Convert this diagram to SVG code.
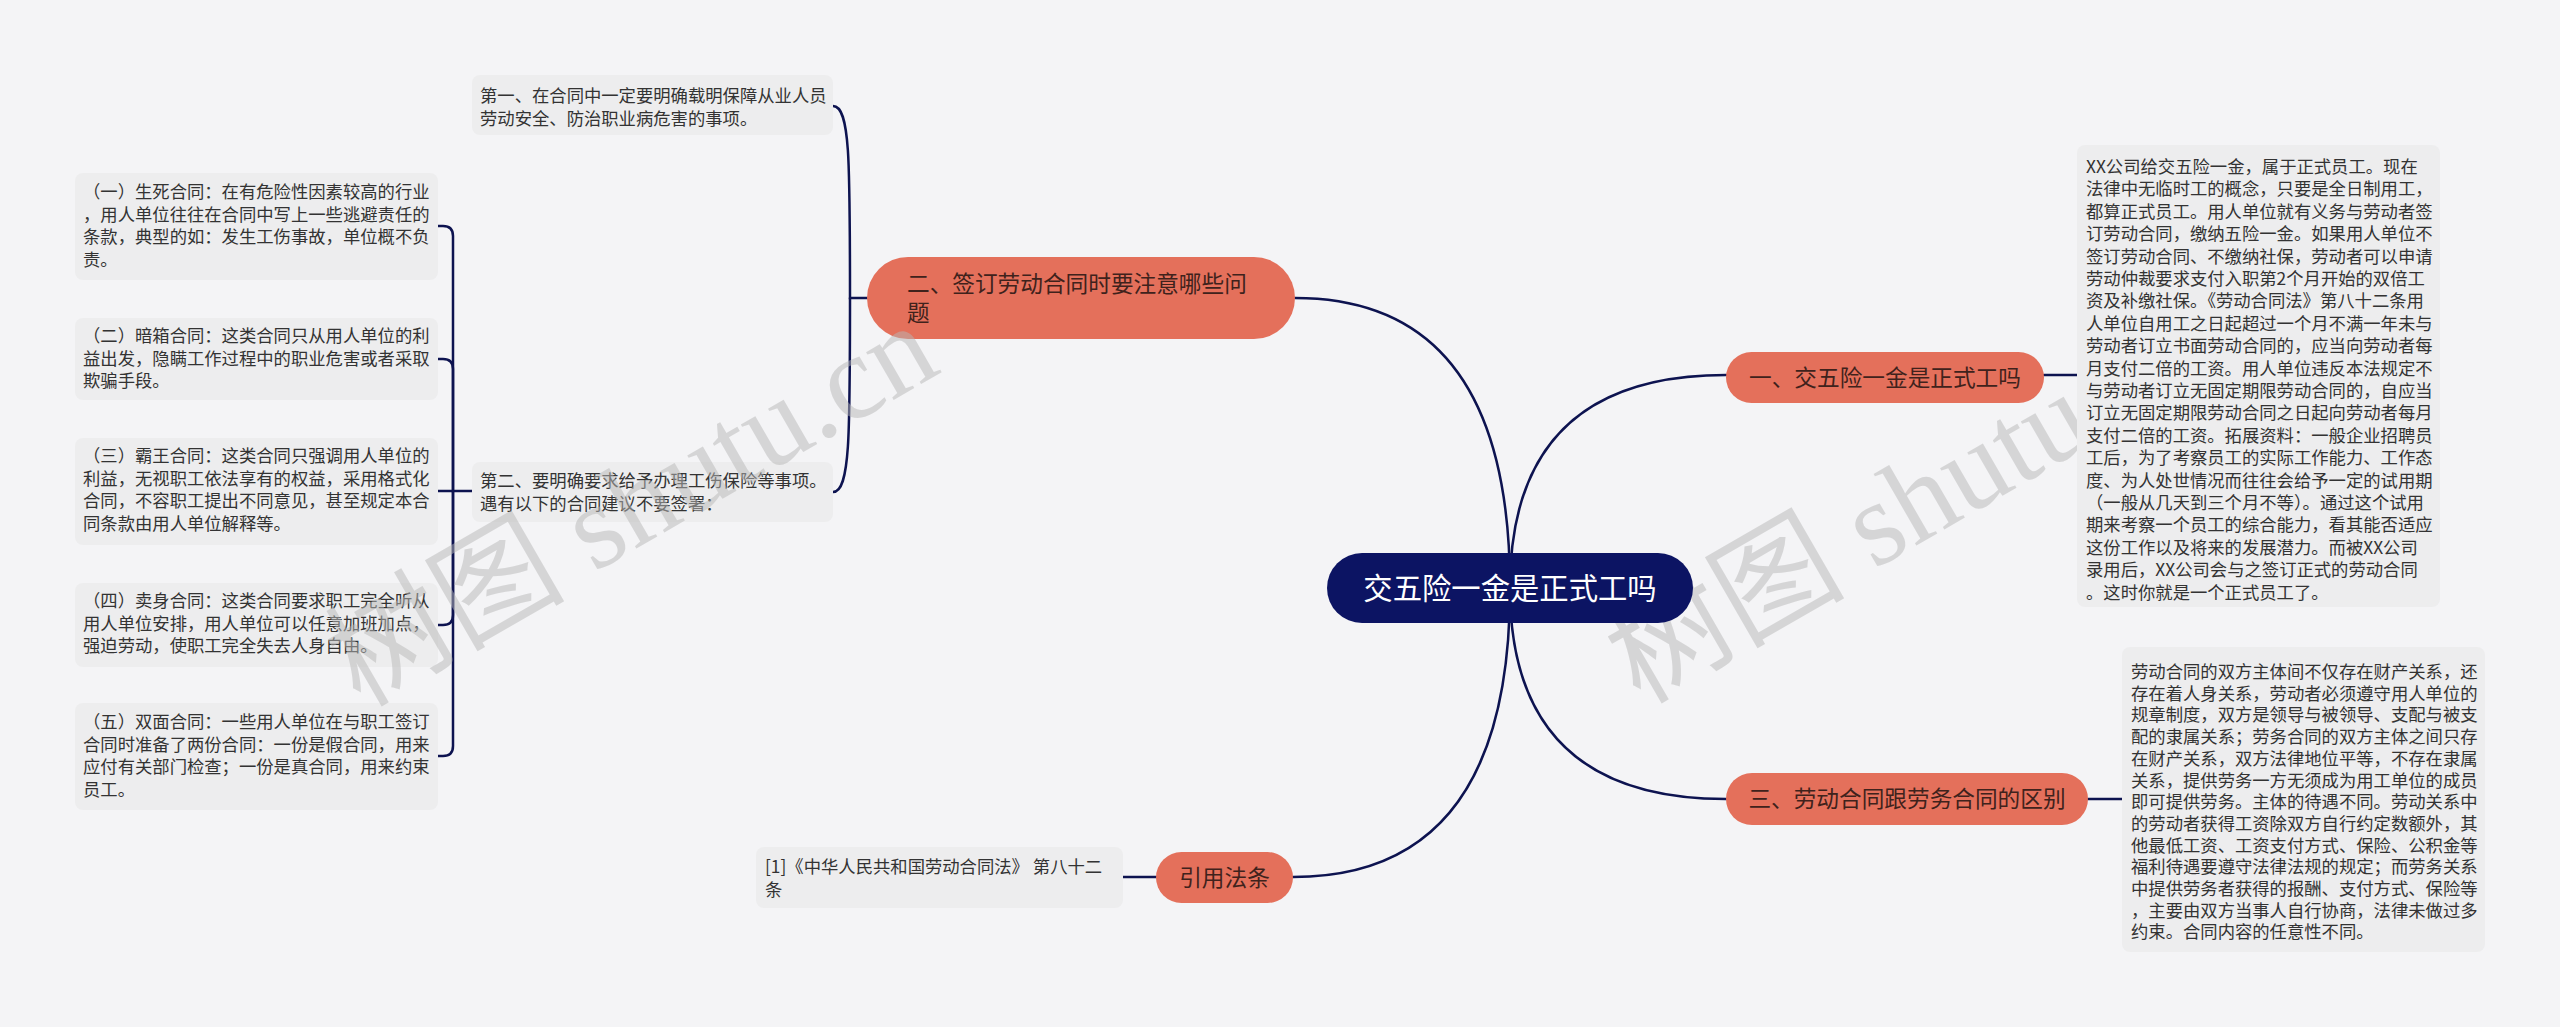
<svg xmlns="http://www.w3.org/2000/svg" width="2560" height="1027" viewBox="0 0 2560 1027">
<style>
.bg{fill:#f4f4f6}
.box{fill:#ededee}
.bt{font-family:"Noto Sans CJK SC","Liberation Sans",sans-serif;font-size:17.33px;fill:#333333}
.pill{fill:#e4705b}
.pt{font-family:"Noto Sans CJK SC","Liberation Sans",sans-serif;font-size:22.67px;fill:#3f221c}
.root{fill:#0c1463}
.rt{font-family:"Noto Sans CJK SC","Liberation Sans",sans-serif;font-size:29.33px;fill:#ffffff}
.ln{fill:none;stroke:#0d1350;stroke-width:2.5;stroke-linecap:round}
.wm{font-family:"Liberation Serif","Noto Sans CJK SC",serif;font-size:120px;fill:#b8b8b8;opacity:0.5}
</style>
<rect class="bg" x="0" y="0" width="2560" height="1027"/>

<g id="watermark-right">
  <text class="wm" x="1640" y="705" transform="rotate(-30 1640 705)">树图 shutu.cn</text>
</g>

<g id="connectors">
  <path class="ln" d="M1510,588 Q1510,375 1726,375"/>
  <path class="ln" d="M1510,588 Q1510,799 1726,799"/>
  <path class="ln" d="M1510,588 Q1510,298 1295,298"/>
  <path class="ln" d="M1510,588 Q1510,877 1293,877"/>
  <path class="ln" d="M2044,375 H2077"/>
  <path class="ln" d="M2088,799 H2122"/>
  <path class="ln" d="M1156,877 H1123"/>
  <path class="ln" d="M867,298 H850 C850,160 850,106 833,106"/>
  <path class="ln" d="M850,298 C850,436 850,492 833,492"/>
  <path class="ln" d="M472,491 H453 V236 Q453,226 443,226 H438"/>
  <path class="ln" d="M453,491 V369 Q453,359 443,359 H438"/>
  <path class="ln" d="M453,491 H438"/>
  <path class="ln" d="M453,491 V615 Q453,625 443,625 H438"/>
  <path class="ln" d="M453,491 V746 Q453,756 443,756 H438"/>
</g>

<g id="root">
  <rect class="root" x="1327" y="553" width="366" height="70" rx="35"/>
  <text class="rt" x="1510" y="599" text-anchor="middle">交五险一金是正式工吗</text>
</g>

<g id="b1">
  <rect class="pill" x="1726" y="352" width="318" height="51" rx="25.5"/>
  <text class="pt" x="1885" y="386" text-anchor="middle">一、交五险一金是正式工吗</text>
</g>
<g id="b1c">
  <rect class="box" x="2077" y="145" width="363" height="462" rx="8"/>
  <text class="bt" x="2086" y="173">
    <tspan x="2086">XX公司给交五险一金，属于正式员工。现在</tspan>
    <tspan x="2086" dy="22.4">法律中无临时工的概念，只要是全日制用工，</tspan>
    <tspan x="2086" dy="22.4">都算正式员工。用人单位就有义务与劳动者签</tspan>
    <tspan x="2086" dy="22.4">订劳动合同，缴纳五险一金。如果用人单位不</tspan>
    <tspan x="2086" dy="22.4">签订劳动合同、不缴纳社保，劳动者可以申请</tspan>
    <tspan x="2086" dy="22.4">劳动仲裁要求支付入职第2个月开始的双倍工</tspan>
    <tspan x="2086" dy="22.4">资及补缴社保。《劳动合同法》第八十二条用</tspan>
    <tspan x="2086" dy="22.4">人单位自用工之日起超过一个月不满一年未与</tspan>
    <tspan x="2086" dy="22.4">劳动者订立书面劳动合同的，应当向劳动者每</tspan>
    <tspan x="2086" dy="22.4">月支付二倍的工资。用人单位违反本法规定不</tspan>
    <tspan x="2086" dy="22.4">与劳动者订立无固定期限劳动合同的，自应当</tspan>
    <tspan x="2086" dy="22.4">订立无固定期限劳动合同之日起向劳动者每月</tspan>
    <tspan x="2086" dy="22.4">支付二倍的工资。拓展资料：一般企业招聘员</tspan>
    <tspan x="2086" dy="22.4">工后，为了考察员工的实际工作能力、工作态</tspan>
    <tspan x="2086" dy="22.4">度、为人处世情况而往往会给予一定的试用期</tspan>
    <tspan x="2086" dy="22.4">（一般从几天到三个月不等）。通过这个试用</tspan>
    <tspan x="2086" dy="22.4">期来考察一个员工的综合能力，看其能否适应</tspan>
    <tspan x="2086" dy="22.4">这份工作以及将来的发展潜力。而被XX公司</tspan>
    <tspan x="2086" dy="22.4">录用后，XX公司会与之签订正式的劳动合同</tspan>
    <tspan x="2086" dy="22.4">。这时你就是一个正式员工了。</tspan>
  </text>
</g>

<g id="b3">
  <rect class="pill" x="1726" y="773" width="362" height="52" rx="26"/>
  <text class="pt" x="1907" y="807" text-anchor="middle">三、劳动合同跟劳务合同的区别</text>
</g>
<g id="b3c">
  <rect class="box" x="2122" y="647" width="363" height="305" rx="8"/>
  <text class="bt" x="2131" y="678">
    <tspan x="2131">劳动合同的双方主体间不仅存在财产关系，还</tspan>
    <tspan x="2131" dy="21.7">存在着人身关系，劳动者必须遵守用人单位的</tspan>
    <tspan x="2131" dy="21.7">规章制度，双方是领导与被领导、支配与被支</tspan>
    <tspan x="2131" dy="21.7">配的隶属关系；劳务合同的双方主体之间只存</tspan>
    <tspan x="2131" dy="21.7">在财产关系，双方法律地位平等，不存在隶属</tspan>
    <tspan x="2131" dy="21.7">关系，提供劳务一方无须成为用工单位的成员</tspan>
    <tspan x="2131" dy="21.7">即可提供劳务。主体的待遇不同。劳动关系中</tspan>
    <tspan x="2131" dy="21.7">的劳动者获得工资除双方自行约定数额外，其</tspan>
    <tspan x="2131" dy="21.7">他最低工资、工资支付方式、保险、公积金等</tspan>
    <tspan x="2131" dy="21.7">福利待遇要遵守法律法规的规定；而劳务关系</tspan>
    <tspan x="2131" dy="21.7">中提供劳务者获得的报酬、支付方式、保险等</tspan>
    <tspan x="2131" dy="21.7">，主要由双方当事人自行协商，法律未做过多</tspan>
    <tspan x="2131" dy="21.7">约束。合同内容的任意性不同。</tspan>
  </text>
</g>

<g id="b2">
  <rect class="pill" x="867" y="257" width="428" height="82" rx="41"/>
  <text class="pt" x="907" y="292">
    <tspan x="907">二、签订劳动合同时要注意哪些问</tspan>
    <tspan x="907" dy="29">题</tspan>
  </text>
</g>
<g id="b2c1">
  <rect class="box" x="472" y="75" width="361" height="60" rx="8"/>
  <text class="bt" x="480" y="102">
    <tspan x="480">第一、在合同中一定要明确载明保障从业人员</tspan>
    <tspan x="480" dy="22.5">劳动安全、防治职业病危害的事项。</tspan>
  </text>
</g>
<g id="b2c2">
  <rect class="box" x="472" y="462" width="361" height="60" rx="8"/>
  <text class="bt" x="480" y="487">
    <tspan x="480">第二、要明确要求给予办理工伤保险等事项。</tspan>
    <tspan x="480" dy="22.5">遇有以下的合同建议不要签署：</tspan>
  </text>
</g>
<g id="c1">
  <rect class="box" x="75" y="173" width="363" height="107" rx="8"/>
  <text class="bt" x="83" y="198">
    <tspan x="83">（一）生死合同：在有危险性因素较高的行业</tspan>
    <tspan x="83" dy="22.5">，用人单位往往在合同中写上一些逃避责任的</tspan>
    <tspan x="83" dy="22.5">条款，典型的如：发生工伤事故，单位概不负</tspan>
    <tspan x="83" dy="22.5">责。</tspan>
  </text>
</g>
<g id="c2">
  <rect class="box" x="75" y="318" width="363" height="82" rx="8"/>
  <text class="bt" x="83" y="342">
    <tspan x="83">（二）暗箱合同：这类合同只从用人单位的利</tspan>
    <tspan x="83" dy="22.5">益出发，隐瞒工作过程中的职业危害或者采取</tspan>
    <tspan x="83" dy="22.5">欺骗手段。</tspan>
  </text>
</g>
<g id="c3">
  <rect class="box" x="75" y="438" width="363" height="107" rx="8"/>
  <text class="bt" x="83" y="462">
    <tspan x="83">（三）霸王合同：这类合同只强调用人单位的</tspan>
    <tspan x="83" dy="22.5">利益，无视职工依法享有的权益，采用格式化</tspan>
    <tspan x="83" dy="22.5">合同，不容职工提出不同意见，甚至规定本合</tspan>
    <tspan x="83" dy="22.5">同条款由用人单位解释等。</tspan>
  </text>
</g>
<g id="c4">
  <rect class="box" x="75" y="583" width="363" height="84" rx="8"/>
  <text class="bt" x="83" y="607">
    <tspan x="83">（四）卖身合同：这类合同要求职工完全听从</tspan>
    <tspan x="83" dy="22.5">用人单位安排，用人单位可以任意加班加点，</tspan>
    <tspan x="83" dy="22.5">强迫劳动，使职工完全失去人身自由。</tspan>
  </text>
</g>
<g id="c5">
  <rect class="box" x="75" y="703" width="363" height="107" rx="8"/>
  <text class="bt" x="83" y="728">
    <tspan x="83">（五）双面合同：一些用人单位在与职工签订</tspan>
    <tspan x="83" dy="22.5">合同时准备了两份合同：一份是假合同，用来</tspan>
    <tspan x="83" dy="22.5">应付有关部门检查；一份是真合同，用来约束</tspan>
    <tspan x="83" dy="22.5">员工。</tspan>
  </text>
</g>

<g id="b4">
  <rect class="pill" x="1156" y="852" width="137" height="51" rx="25.5"/>
  <text class="pt" x="1224.5" y="886" text-anchor="middle">引用法条</text>
</g>
<g id="b4c">
  <rect class="box" x="756" y="847" width="367" height="61" rx="8"/>
  <text class="bt" x="765" y="873">
    <tspan x="765">[1]《中华人民共和国劳动合同法》 第八十二</tspan>
    <tspan x="765" dy="22.5">条</tspan>
  </text>
</g>

<g id="watermark-left">
  <text class="wm" x="360" y="708" transform="rotate(-30 360 708)">树图 shutu.cn</text>
</g>
</svg>
